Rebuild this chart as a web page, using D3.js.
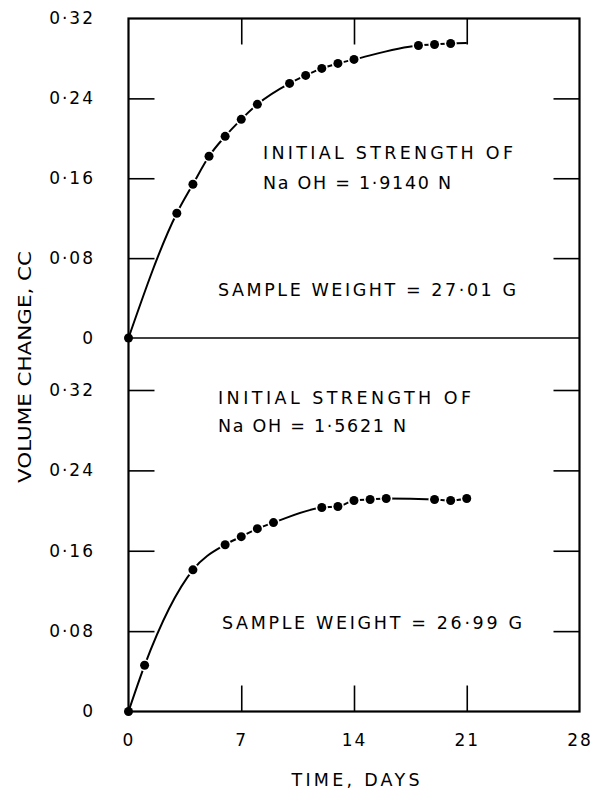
<!DOCTYPE html>
<html><head><meta charset="utf-8">
<script src="https://cdn.jsdelivr.net/npm/d3@7"></script>
<style>body{margin:0;background:#fff}svg{display:block}</style>
</head><body><svg id="c" width="593" height="791"></svg>
<script>
// ---- data ----
const xTickValues = [0, 7, 14, 21, 28];
const xTickLabels = ["0", "7", "14", "21", "28"];
const yTickValues = [0, 0.08, 0.16, 0.24, 0.32];
const yTickLabels = ["0", "0·08", "0·16", "0·24", "0·32"];

const topDays   = [0, 3, 4, 5, 6, 7, 8, 10, 11, 12, 13, 14, 18, 19, 20];
const topVolume = [0, 0.125, 0.154, 0.182, 0.202, 0.219, 0.234, 0.255, 0.263, 0.270, 0.275, 0.279, 0.293, 0.294, 0.295];
const topCurveEndDay = 21, topCurveEndVolume = 0.2955;

const bottomDays   = [0, 1, 4, 6, 7, 8, 9, 12, 13, 14, 15, 16, 19, 20, 21];
const bottomVolume = [0, 0.046, 0.141, 0.166, 0.174, 0.182, 0.188, 0.203, 0.204, 0.210, 0.211, 0.212, 0.211, 0.210, 0.212];

const topNotes = ["INITIAL STRENGTH OF", "Na OH = 1·9140 N", "SAMPLE WEIGHT = 27·01 G"];
const bottomNotes = ["INITIAL STRENGTH OF", "Na OH = 1·5621 N", "SAMPLE WEIGHT = 26·99 G"];
const xTitle = "TIME, DAYS";
const yTitle = "VOLUME CHANGE, CC";

// ---- layout ----
const svg = d3.select("#c");
const L = 128.5, R = 579.5, T = 18.5, M = 338, B = 711.5, B32 = 390;
const FONT = "'DejaVu Sans',sans-serif";
const x = d3.scaleLinear().domain([0, 28]).range([L, R]);
const yTop = d3.scaleLinear().domain([0, 0.32]).range([M, T]);
const yBot = d3.scaleLinear().domain([0, 0.32]).range([B, B32]);

svg.append("rect").attr("width", 593).attr("height", 791).attr("fill", "#fff");

// inner tick marks via axes
function ticks(axis, tx, ty) {
  const g = svg.append("g").attr("transform", `translate(${tx},${ty})`).call(axis);
  g.select(".domain").remove();
  g.selectAll("line").attr("stroke", "#000").attr("stroke-width", 1.6);
  g.selectAll("text").remove();
}
ticks(d3.axisLeft(yTop).tickValues([0.08, 0.16, 0.24]).tickSize(-26), L, 0);
ticks(d3.axisRight(yTop).tickValues([0.08, 0.16, 0.24]).tickSize(-26), R, 0);
ticks(d3.axisLeft(yBot).tickValues([0.08, 0.16, 0.24, 0.32]).tickSize(-26), L, 0);
ticks(d3.axisRight(yBot).tickValues([0.08, 0.16, 0.24, 0.32]).tickSize(-26), R, 0);
ticks(d3.axisTop(x).tickValues([7, 14, 21]).tickSize(-26), 0, T);
ticks(d3.axisBottom(x).tickValues([7, 14, 21]).tickSize(-26), 0, B);

// tick labels via axes
function labels(axis, tx, ty) {
  const g = svg.append("g").attr("transform", `translate(${tx},${ty})`).call(axis);
  g.select(".domain").remove();
  g.selectAll("line").remove();
  g.selectAll("text").attr("font-family", FONT).attr("font-size", 17)
    .attr("letter-spacing", 2).attr("fill", "#000");
  return g;
}
const fmt = v => yTickLabels[yTickValues.indexOf(v)];
labels(d3.axisLeft(yTop).tickValues(yTickValues).tickSize(0).tickPadding(L - 95).tickFormat(fmt), L, 0);
labels(d3.axisLeft(yBot).tickValues(yTickValues).tickSize(0).tickPadding(L - 95).tickFormat(fmt), L, 0);
labels(d3.axisBottom(x).tickValues(xTickValues).tickSize(0).tickPadding(22)
  .tickFormat(v => xTickLabels[xTickValues.indexOf(v)]), 0, B);

// frame and middle line
svg.append("rect").attr("x", L).attr("y", T).attr("width", R - L).attr("height", B - T)
  .attr("fill", "none").attr("stroke", "#000").attr("stroke-width", 2.2);
svg.append("line").attr("x1", L).attr("x2", R).attr("y1", M).attr("y2", M)
  .attr("stroke", "#000").attr("stroke-width", 1.6);

// curves
const topPts = topDays.map((d, i) => ({ day: d, v: topVolume[i] }));
const botPts = bottomDays.map((d, i) => ({ day: d, v: bottomVolume[i] }));
const topCurvePts = topPts.concat([{ day: topCurveEndDay, v: topCurveEndVolume }]);

function curve(pts, ys) {
  svg.append("path").datum(pts)
    .attr("d", d3.line().x(d => x(d.day)).y(d => ys(d.v)).curve(d3.curveMonotoneX))
    .attr("fill", "none").attr("stroke", "#000").attr("stroke-width", 2);
}
curve(topCurvePts, yTop);
curve(botPts, yBot);

function dots(pts, ys) {
  svg.append("g").selectAll("circle").data(pts).join("circle")
    .attr("cx", d => x(d.day)).attr("cy", d => ys(d.v)).attr("r", 4.5)
    .attr("fill", "#000")
    .attr("stroke", d => d.day === 0 ? "none" : "#fff").attr("stroke-width", 3.2)
    .attr("paint-order", "stroke");
}
dots(topPts, yTop);
dots(botPts, yBot);

// annotations
function note(txt, x0, base, len) {
  svg.append("text").attr("x", x0).attr("y", base).text(txt)
    .attr("font-family", FONT).attr("font-size", 17.5).attr("fill", "#000")
    .attr("textLength", len).attr("lengthAdjust", "spacing");
}
note(topNotes[0], 263, 159, 250);
note(topNotes[1], 263, 189, 188);
note(topNotes[2], 218, 296, 298);
note(bottomNotes[0], 218, 404, 253);
note(bottomNotes[1], 218, 432, 188);
note(bottomNotes[2], 222, 629, 300);

// axis titles
svg.append("text").attr("x", (291.7 + 419.3) / 2).attr("y", 786).attr("text-anchor", "middle")
  .text(xTitle).attr("font-family", FONT).attr("font-size", 17.5).attr("fill", "#000")
  .attr("textLength", 128).attr("lengthAdjust", "spacing");
svg.append("text").attr("transform", "translate(31,367) rotate(-90)").attr("text-anchor", "middle")
  .text(yTitle).attr("font-family", FONT).attr("font-size", 17).attr("fill", "#000")
  .attr("textLength", 232).attr("lengthAdjust", "spacingAndGlyphs");
</script></body></html>
